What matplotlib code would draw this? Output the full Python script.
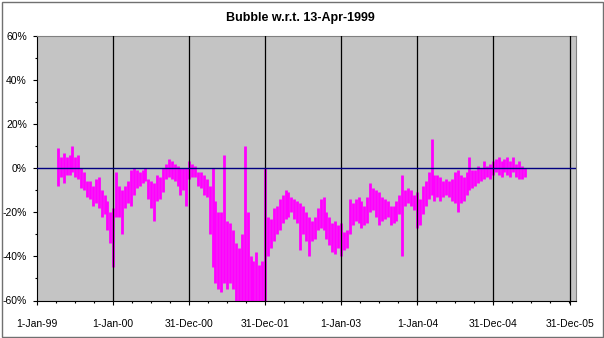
import matplotlib
matplotlib.use("Agg")
import matplotlib.pyplot as plt
import numpy as np
import pandas as pd
from matplotlib.patches import Rectangle

plt.rcParams['font.family'] = ['Liberation Sans', 'DejaVu Sans']

title = "Bubble w.r.t. 13-Apr-1999"
first_day = "1999-04-13"

# fortnightly high / low of the bubble measure, in percent
high = [9, 5, 7, 5, 6, 10, 5, 6, 0, -2,
        -6, -6, -8, -5, -4, -10, -12, -15, -20, -18,
        -2, -8, -10, -8, -6, -1, 0, -1, -2, -1,
        0, -5, -6, -7, -3, -4, 0, 2, 4, 3,
        2, 1, 0, 0, 0, 3, 2, 1, -2, -2,
        -3, -5, -8, 0, -15, -20, -20, 6, -24, -25,
        -28, -34, -36, -30, 10, -20, -40, -42, -38, -44,
        -42, 0, -22, -23, -18, -17, -14, -12, -10, -11,
        -13, -14, -15, -16, -17, -20, -22, -24, -22, -18,
        -14, -13, -20, -22, -25, -24, -26, -25, -29, -28,
        -14, -16, -14, -13, -15, -17, -13, -7, -9, -10,
        -11, -13, -14, -15, -17, -17, -15, -12, -3, -10,
        -9, -10, -12, -11, -14, -8, -6, -2, 13, -3,
        -3, -4, -6, -5, -6, -5, -2, -1, -3, -4,
        -2, 5, -1, -1, 1, 0, 3, 1, 2, 3,
        4, 5, 3, 4, 5, 3, 5, 2, 3, 1,
        0]
low = [-8, -4, -7, -3, -3, -2, -4, -5, -9, -10,
       -13, -14, -17, -16, -18, -22, -21, -28, -34, -45,
       -22, -22, -30, -18, -16, -17, -12, -9, -8, -7,
       -6, -14, -18, -24, -15, -14, -11, -5, -4, -5,
       -6, -8, -12, -10, -17, -5, -4, -4, -8, -9,
       -12, -13, -30, -45, -52, -55, -56, -52, -55, -52,
       -55, -60, -62, -62, -62, -62, -62, -62, -62, -62,
       -62, -62, -40, -36, -33, -30, -28, -25, -23, -22,
       -20, -23, -25, -37, -30, -33, -40, -33, -32, -28,
       -27, -28, -32, -35, -38, -39, -36, -40, -37, -36,
       -30, -26, -24, -25, -27, -26, -25, -20, -19, -22,
       -26, -24, -23, -22, -26, -25, -24, -21, -40, -17,
       -16, -17, -19, -27, -26, -21, -17, -14, -12, -15,
       -13, -15, -13, -12, -13, -15, -16, -20, -16, -15,
       -12, -10, -9, -8, -7, -6, -5, -4, -5, -3,
       -2, -3, -4, -2, -3, -4, -2, -4, -5, -5,
       -4]

x_labels = ["1-Jan-99", "1-Jan-00", "31-Dec-00", "31-Dec-01",
            "1-Jan-03", "1-Jan-04", "31-Dec-04", "31-Dec-05"]
y_ticks = [-60, -40, -20, 0, 20, 40, 60]

origin = pd.Timestamp("1999-01-01")
dates = pd.date_range(first_day, periods=len(high), freq="14D")
xd = np.asarray((dates - origin).days, dtype=float)
tick_days = np.asarray((pd.to_datetime(x_labels, format="%d-%b-%y") - origin).days,
                       dtype=float)
x_end = tick_days[-1] + 31

fig = plt.figure(figsize=(6.04, 3.38), dpi=100)
fig.patch.set_facecolor("white")
ax = fig.add_axes([36.6 / 604, 1 - 300.5 / 338, (576 - 36.6) / 604, (300.5 - 35.5) / 338])
ax.set_facecolor("#C4C4C4")

ax.vlines(xd, low, high, color="#FF00FF", lw=2.0, zorder=2)
for t in tick_days[1:]:
    ax.axvline(t, color="black", lw=0.9, zorder=3)
ax.axhline(0, color="#000080", lw=1.0, zorder=4)

ax.set_xlim(0, x_end)
ax.set_ylim(-60, 60)
ax.set_xticks(tick_days)
ax.set_xticklabels(x_labels)
ax.set_xticks(np.arange(0, x_end, 365 / 4), minor=True)
ax.set_yticks(y_ticks)
ax.set_yticklabels([f"{v}%" for v in y_ticks])
ax.set_yticks(np.arange(-60, 61, 10), minor=True)

ax.tick_params(axis="both", which="major", direction="out", length=3, width=0.8,
               labelsize=7.5, colors="black")
ax.tick_params(axis="both", which="minor", direction="out", length=1.6, width=0.8)
ax.tick_params(axis="x", which="major", pad=10)
ax.tick_params(axis="y", which="major", pad=4)

for side in ("top", "right"):
    ax.spines[side].set_color("#808080")
    ax.spines[side].set_linewidth(0.8)
for side in ("left", "bottom"):
    ax.spines[side].set_color("black")
    ax.spines[side].set_linewidth(0.8)

fig.text(0.498, 1 - 18 / 338, title, ha="center", va="center",
         fontsize=9, fontweight="bold")

fig.add_artist(Rectangle((1.5 / 604, 1.5 / 338), 601 / 604, 334.5 / 338,
                         transform=fig.transFigure, fill=False,
                         edgecolor="#707070", lw=1.0))

fig.savefig("out.png", dpi=100)
